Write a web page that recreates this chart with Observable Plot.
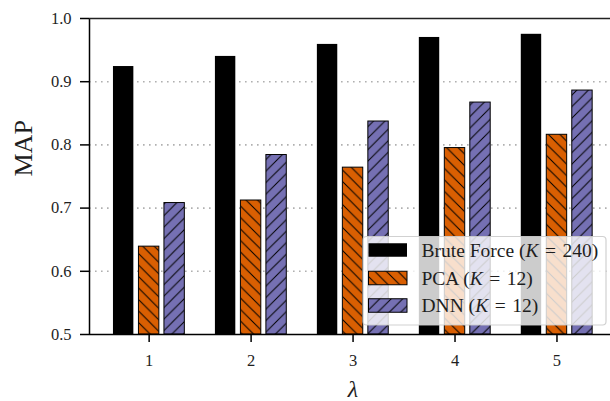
<!DOCTYPE html>
<html>
<head>
<meta charset="utf-8">
<script src="https://cdn.jsdelivr.net/npm/d3@7"></script>
<script src="https://cdn.jsdelivr.net/npm/@observablehq/plot@0.6"></script>
<style>
  html, body { margin: 0; padding: 0; background: white; }
</style>
</head>
<body>
<div id="chart"></div>
<script>
// ---- data ----
const lambdas = [1, 2, 3, 4, 5];
const seriesNames = ["Brute Force", "PCA", "DNN"];
const seriesK = ["240", "12", "12"];
const bruteForce = [0.924, 0.940, 0.959, 0.970, 0.975];
const pca = [0.639, 0.712, 0.764, 0.795, 0.816];
const dnn = [0.708, 0.784, 0.837, 0.867, 0.886];
const yTicks = [0.5, 0.6, 0.7, 0.8, 0.9, 1.0];
const gridValues = [0.6, 0.7, 0.8, 0.9];

// ---- styling ----
const fills = ["black", "url(#hatch-pca)", "url(#hatch-dnn)"];
const baseColors = ["black", "#d95f02", "#7570b3"];
const offsets = [-0.25, 0, 0.25];
const barW = 0.2;
const font = "'Liberation Serif', 'DejaVu Serif', serif";
const ink = "#1e1e1e";

const allSeries = [bruteForce, pca, dnn];
const rows = [];
allSeries.forEach((vals, s) => {
  vals.forEach((v, i) => {
    rows.push({series: s, lambda: lambdas[i], value: v,
               x1: lambdas[i] + offsets[s] - barW / 2,
               x2: lambdas[i] + offsets[s] + barW / 2});
  });
});

const svg = Plot.plot({
  width: 610,
  height: 401,
  marginLeft: 89,
  marginRight: 0,
  marginTop: 18,
  marginBottom: 67,
  style: {fontFamily: font, fontSize: "16px", color: ink, background: "white"},
  x: {domain: [0.415, 5.525]},
  y: {domain: [0.5, 1.0]},
  marks: [
    Plot.ruleY(gridValues, {y: d => d, stroke: "#b0b0b0", strokeWidth: 1.6, strokeDasharray: "1.6,4.4"}),
    Plot.rectY(rows, {
      x1: "x1", x2: "x2", y1: 0.5, y2: "value",
      fill: d => fills[d.series],
      stroke: "black",
      strokeWidth: d => d.series === 0 ? 0 : 1
    }),
    Plot.ruleX([0.415], {stroke: "black", strokeWidth: 1.5}),
    Plot.ruleY([0.5], {stroke: "black", strokeWidth: 1.5}),
    Plot.ruleY([1.0], {stroke: "#222", strokeWidth: 1.5}),
    Plot.axisY({ticks: yTicks, tickFormat: d3.format(".1f"), tickSize: 9, tickPadding: 9,
                fontSize: 16.5, strokeWidth: 1.5, stroke: "black", fill: ink, label: null}),
    Plot.axisX({ticks: lambdas, tickFormat: d => String(d), tickSize: 8, tickPadding: 12,
                fontSize: 16.5, strokeWidth: 1.5, stroke: "black", fill: ink, label: null}),
    Plot.text(["MAP"], {y: 0.75, frameAnchor: "left", dx: -66, rotate: -90, fontSize: 26,
                        fill: ink, lineAnchor: "middle"}),
    Plot.text(["λ"], {x: 3, frameAnchor: "bottom", dy: 55, fontSize: 24, fontStyle: "italic",
                      fill: ink, lineAnchor: "middle"})
  ]
});

// hatch patterns
const sel = d3.select(svg);
const defs = sel.insert("defs", ":first-child");
const P = 11.5;
function hatch(id, color, forward) {
  const p = defs.append("pattern").attr("id", id).attr("patternUnits", "userSpaceOnUse")
    .attr("width", P).attr("height", P);
  p.append("rect").attr("width", P).attr("height", P).attr("fill", color);
  const d = forward
    ? `M0,${P} L${P},0 M${-P/4},${P/4} L${P/4},${-P/4} M${P*3/4},${P*5/4} L${P*5/4},${P*3/4}`
    : `M0,0 L${P},${P} M${-P/4},${P*3/4} L${P/4},${P*5/4} M${P*3/4},${-P/4} L${P*5/4},${P/4}`;
  p.append("path").attr("d", d).attr("stroke", "black").attr("stroke-width", 1).attr("fill", "none");
}
hatch("hatch-pca", baseColors[1], false);
hatch("hatch-dnn", baseColors[2], true);

// legend
const lg = sel.append("g").attr("font-family", font).attr("text-anchor", "start");
lg.append("rect").attr("x", 363).attr("y", 236.5).attr("width", 243).attr("height", 88.5)
  .attr("rx", 3.5).attr("fill", "white").attr("fill-opacity", 0.8)
  .attr("stroke", "#cccccc").attr("stroke-opacity", 0.9).attr("stroke-width", 1.2);
const rowY = [250, 278, 305.5];
seriesNames.forEach((name, i) => {
  lg.append("rect").attr("x", 368.5).attr("y", rowY[i] - 6.75).attr("width", 38.5).attr("height", 13.5)
    .attr("fill", fills[i]).attr("stroke", "black").attr("stroke-width", i === 0 ? 0 : 1);
  const t = lg.append("text").attr("x", 421.5).attr("y", rowY[i] + 6.5)
    .attr("text-anchor", "start").attr("font-size", 19.5).attr("fill", ink);
  t.append("tspan").text(name + " (");
  t.append("tspan").attr("font-style", "italic").text("K");
  t.append("tspan").text("\u2004=\u2004" + seriesK[i] + ")");
});

document.getElementById("chart").appendChild(svg);
</script>
</body>
</html>
